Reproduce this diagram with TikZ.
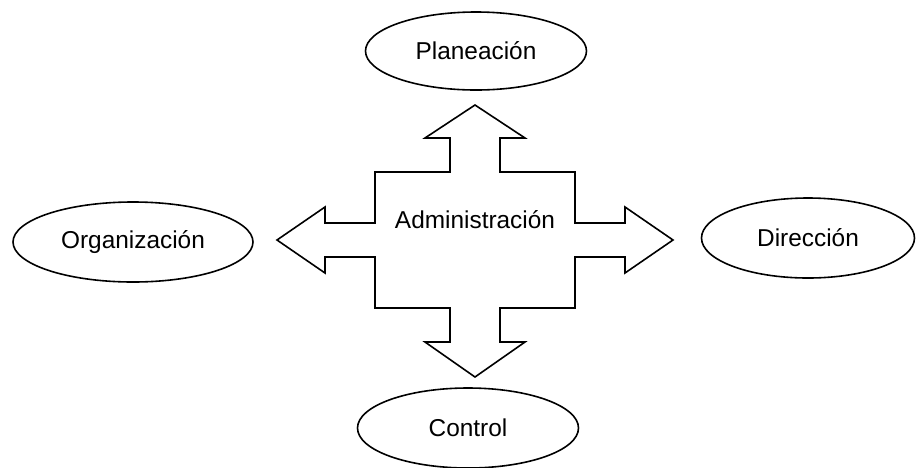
\documentclass[tikz,border=0pt]{standalone}
\usepackage{fontspec}
\setmainfont{Liberation Sans}
\usetikzlibrary{shapes.geometric}

\begin{document}
\begin{tikzpicture}[x=0.5pt,y=-0.5pt,line width=0.8pt]
	\tikzset{area/.style={draw,ellipse,inner sep=0pt,font=\fontsize{12.2}{14}\selectfont}}
	\useasboundingbox (0,0) rectangle (916,467);

	    \node[area,minimum width=110.5pt,minimum height=39pt] (plan) at (476,51) {Planeaci\'on};
	    \node[area,minimum width=120pt,minimum height=40pt] (org) at (133,242) {Organizaci\'on};
	    \node[area,minimum width=106.5pt,minimum height=40pt] (dir) at (808,238) {Direcci\'on};
	    \node[area,minimum width=110.5pt,minimum height=40pt] (ctrl) at (468,428) {Control};

	    % cruz de flechas
	    \draw[line join=miter] (475,105) -- (525,138) -- (500,138) -- (500,172) -- (575,172)
	        -- (575,223) -- (625,223) -- (625,207) -- (673,240) -- (625,273) -- (625,257)
	        -- (575,257) -- (575,308) -- (500,308) -- (500,342) -- (525,342) -- (475,377)
	        -- (425,342) -- (450,342) -- (450,308) -- (375,308) -- (375,257) -- (325,257)
	        -- (325,273) -- (277,240) -- (325,207) -- (325,223) -- (375,223) -- (375,172)
	        -- (450,172) -- (450,138) -- (425,138) -- cycle;
	    \node[font=\fontsize{12.2}{14}\selectfont] (adm) at (475,220) {Administraci\'on};

\end{tikzpicture}
\end{document}
